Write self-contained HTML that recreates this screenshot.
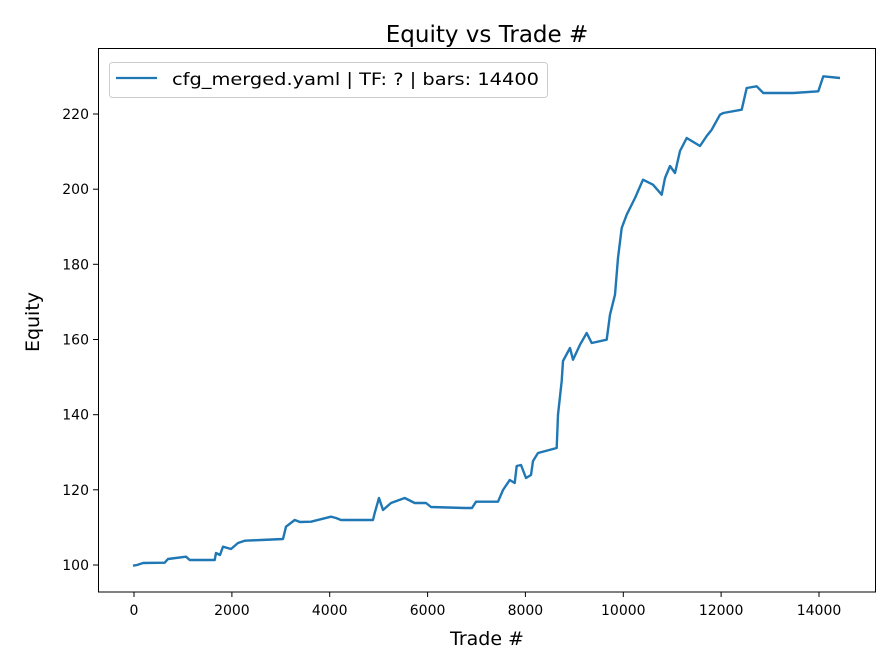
<!DOCTYPE html>
<html><head><meta charset="utf-8"><style>body{margin:0;background:#fff}svg{display:block}text{font-family:"DejaVu Sans","Liberation Sans",sans-serif;fill:#000}</style></head><body>
<svg width="896" height="672" viewBox="0 0 896 672">
<rect width="896" height="672" fill="#fff"/>
<text x="487" y="42" font-size="23" text-anchor="middle">Equity vs Trade #</text>
<polyline fill="none" stroke="#1f77b4" stroke-width="2.4" stroke-linejoin="round" points="133,565.7 137,565 143,563 164.7,562.7 168,559 186,556.7 189.7,560 214.7,560 216,553 220,555 223,546.7 231,549 238,543 244.7,540.7 261,540 283,539 286,526.7 294.7,520 300,522 311,521.7 331,516.7 336,518 341,520 373,520 374.7,513 379,498 383,510 391,503 404.7,498 414.7,503 426,503 431,507 464.7,508 472,508 476,501.7 498,501.7 503,490 509.7,480 514.7,483 516.7,466 521,465 526,478 531,475 533,461 538,453 556.7,448 558,414.7 561.7,381 563,361 570,348 573,359.7 580,344.7 586.7,333 591.7,343 606.7,339.7 610,314.7 615,294.7 618,258 621.7,228 626.7,214.7 635,198 643,179.7 653,184.7 661.7,194.7 665,178 670,166 675,173 680,151 686.7,138 700,146 706.7,136 711.7,129.7 720,114.7 723.3,113 741.7,109.7 746.7,88 756.7,86.3 763.3,93 793.3,93 818.3,91.3 823.3,76.3 840,78"/>
<rect x="98.5" y="48.5" width="777" height="543.5" fill="none" stroke="#000" stroke-width="1"/>
<g stroke="#000" stroke-width="1">
<line x1="134" y1="592" x2="134" y2="597"/><line x1="231.9" y1="592" x2="231.9" y2="597"/><line x1="329.7" y1="592" x2="329.7" y2="597"/><line x1="427.6" y1="592" x2="427.6" y2="597"/><line x1="525.4" y1="592" x2="525.4" y2="597"/><line x1="623.3" y1="592" x2="623.3" y2="597"/><line x1="721.1" y1="592" x2="721.1" y2="597"/><line x1="819" y1="592" x2="819" y2="597"/>
<line x1="93" y1="565" x2="98" y2="565"/><line x1="93" y1="489.8" x2="98" y2="489.8"/><line x1="93" y1="414.7" x2="98" y2="414.7"/><line x1="93" y1="339.5" x2="98" y2="339.5"/><line x1="93" y1="264.3" x2="98" y2="264.3"/><line x1="93" y1="189.2" x2="98" y2="189.2"/><line x1="93" y1="114" x2="98" y2="114"/>
</g>
<g font-size="14" text-anchor="middle">
<text x="134" y="615">0</text><text x="231.9" y="615">2000</text><text x="329.7" y="615">4000</text><text x="427.6" y="615">6000</text><text x="525.4" y="615">8000</text><text x="623.3" y="615">10000</text><text x="721.1" y="615">12000</text><text x="819" y="615">14000</text>
</g>
<g font-size="14" text-anchor="end">
<text x="89" y="570">100</text><text x="89" y="494.8">120</text><text x="89" y="419.7">140</text><text x="89" y="344.5">160</text><text x="89" y="269.3">180</text><text x="89" y="194.2">200</text><text x="89" y="119">220</text>
</g>
<text x="487" y="645" font-size="19" text-anchor="middle">Trade #</text>
<text x="39" y="322" font-size="19" text-anchor="middle" transform="rotate(-90 39 322)">Equity</text>
<rect x="109.5" y="62.5" width="438" height="35" rx="3" fill="#fff" fill-opacity="0.8" stroke="#ccc"/>
<line x1="116" y1="78" x2="157" y2="78" stroke="#1f77b4" stroke-width="2.2"/>
<text x="172" y="85" font-size="16.8" textLength="367" lengthAdjust="spacingAndGlyphs">cfg_merged.yaml | TF: ? | bars: 14400</text>
</svg>
</body></html>
